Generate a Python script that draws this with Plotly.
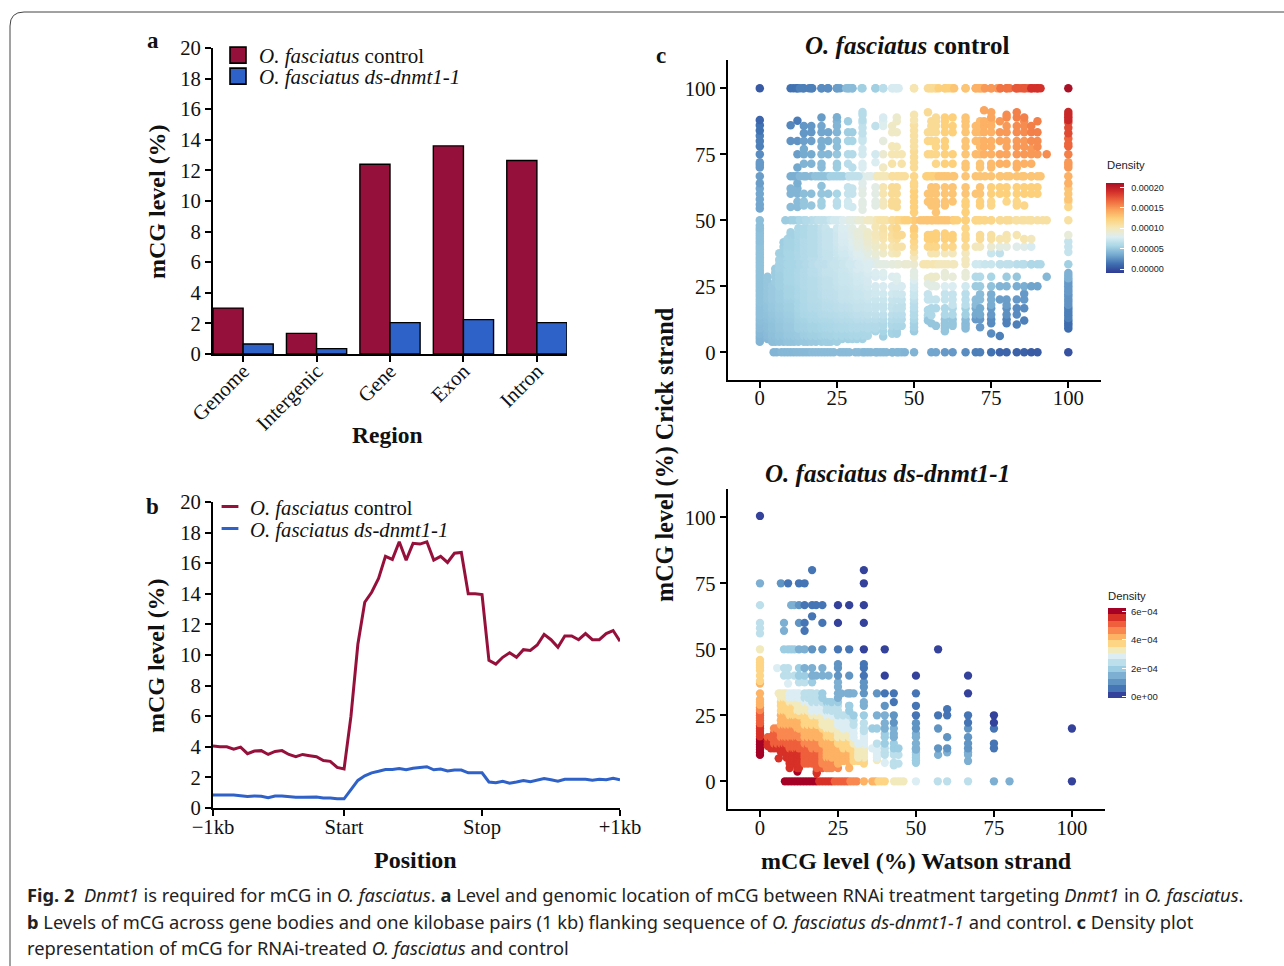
import numpy as np
import plotly.graph_objects as go

W, H = 1284, 966
SERIF = "Liberation Serif"
RED = "#96103c"
BLUE = "#2f62c8"

# ---------- panel a ----------
regions = ["Genome", "Intergenic", "Gene", "Exon", "Intron"]
a_control = [3.0, 1.35, 12.4, 13.6, 12.65]
a_treated = [0.65, 0.35, 2.05, 2.25, 2.05]

# ---------- panel b ----------
pos_ticks = [0, 19, 39, 59]
pos_labels = ["\u22121kb", "Start", "Stop", "+1kb"]
b_control = [4.05, 4.0, 4.0, 3.85, 3.98, 3.55, 3.72, 3.75, 3.5, 3.7, 3.75, 3.5, 3.35, 3.5, 3.42, 3.35, 3.1, 3.05, 2.65, 2.55,
             6.0, 10.7, 13.45, 14.1, 15.0, 16.45, 16.25, 17.4, 16.2, 17.3, 17.25, 17.4, 16.2, 16.45, 16.05, 16.65, 16.7, 14.0, 14.0, 13.95,
             9.65, 9.4, 9.85, 10.15, 9.85, 10.35, 10.3, 10.65, 11.35, 11.0, 10.5, 11.25, 11.25, 11.0, 11.4, 11.0, 11.0, 11.4, 11.6, 10.9]
b_treated = [0.85, 0.85, 0.82, 0.85, 0.8, 0.75, 0.78, 0.77, 0.68, 0.78, 0.78, 0.72, 0.7, 0.7, 0.7, 0.72, 0.65, 0.65, 0.6, 0.6,
             1.2, 1.8, 2.1, 2.3, 2.4, 2.52, 2.52, 2.58, 2.5, 2.6, 2.65, 2.7, 2.5, 2.55, 2.42, 2.48, 2.48, 2.3, 2.3, 2.3,
             1.7, 1.65, 1.75, 1.62, 1.7, 1.8, 1.72, 1.8, 1.92, 1.85, 1.75, 1.88, 1.88, 1.9, 1.88, 1.82, 1.88, 1.85, 1.95, 1.85]

# ---------- panel c: columns of Watson value -> Crick values ----------
c_col_x = [0, 10, 12.2, 14.3, 16.7, 20, 22.2, 25, 28.6, 30, 33.3, 37.5, 40, 42.9, 44.4, 46, 50, 54.5, 55.6, 57.1, 60, 62.5, 66.7,
           70, 71.4, 72.7, 75, 77.8, 80, 83.3, 85.7, 88, 90, 93, 100]
c_col_y = [
    [4, 5, 6, 7, 8, 9, 10, 11, 12, 13, 14, 15, 16, 17, 18, 19, 20, 21, 22, 23, 24, 25, 26, 27, 28, 29, 30, 31, 32, 33, 34, 35, 36, 37, 38, 39, 40, 41, 42, 43, 44, 45, 46, 47, 48, 50, 54.5, 56, 58, 60, 62, 64, 66.7, 70, 71, 72, 75, 78, 80, 82, 84, 86, 88, 100],
    [50, 55, 60, 62, 66.7, 80, 86, 100],
    [50, 55, 57, 60, 62, 64, 66.7, 70, 75, 80, 87.7, 100],
    [50, 55.6, 57.1, 60, 66.7, 71.4, 75, 77, 80, 83, 85.7, 100],
    [50, 55.6, 60, 66.7, 71.4, 75, 80, 83.3, 85.7, 100],
    [50, 55.6, 57, 60, 63, 66.7, 70, 71.4, 75, 77.8, 80, 83.3, 85.7, 88.9, 100],
    [50, 60, 66.7, 75, 80, 83.3, 100],
    [50, 55.6, 57, 60, 66.7, 70, 71.4, 75, 77.8, 80, 83.3, 85.7, 87.5, 89, 100],
    [50, 55.6, 57.1, 60, 62.5, 66.7, 71.4, 75, 80, 83.3, 87.5, 100],
    [50, 55, 60, 62, 66.7, 70, 75, 80, 83.3, 100],
    [0, 5, 6.5, 8, 9.5, 11, 12.5, 14, 15.5, 17, 18.5, 20, 21.5, 23, 24.5, 26, 27.5, 29, 30.5, 32, 33.3, 35, 36.5, 38, 39.5, 41, 42.5, 44, 45.5, 47, 50, 54, 56, 57, 60, 62, 64, 66.7, 70, 71.4, 75, 77, 80, 81, 83, 85, 87, 88, 90, 91, 100],
    [0, 8, 9, 10, 11, 12.5, 14.3, 16.7, 18, 20, 22.2, 23, 25, 28.6, 30, 33.3, 35.7, 37.5, 40, 41, 42.9, 44.4, 45, 47.5, 50, 55.6, 57.1, 60, 62.5, 66.7, 72, 75, 85.7, 100],
    [0, 6, 8, 10, 11, 12.5, 14.3, 16.7, 18, 20, 22.2, 25, 28.6, 30, 33.3, 37.5, 40, 42.9, 44.4, 45.5, 47, 50, 55.6, 57.1, 60, 62.5, 66.7, 70, 75, 80, 85.7, 87.5, 88.9, 100],
    [0, 7, 8, 10, 11, 12.5, 14.3, 16.7, 18, 20, 22.2, 25, 28.6, 33.3, 37.5, 40, 42.9, 44.4, 47, 50, 55.6, 57.1, 60, 62.5, 66.7, 71.4, 75, 78, 83.3, 85.7, 100],
    [0, 7, 8, 10, 12.5, 14.3, 16.7, 20, 22.2, 25, 27, 28.6, 33.3, 37.5, 40, 42.9, 44.4, 47, 50, 55, 57, 60, 62.5, 66.7, 75, 77.8, 83.3, 87.5, 88.9, 100],
    [0, 10, 12.5, 14.3, 16.7, 18, 20, 22, 25, 40, 44.4, 50, 66.7, 71.4, 75],
    [0, 8, 9.5, 11, 12.5, 14, 15.5, 17, 18.5, 20, 21.5, 23, 24.5, 26, 27.5, 29, 30.5, 33.3, 36, 38, 40, 42, 44, 46, 47, 50, 53, 55, 57, 59, 61, 63, 64, 66.7, 70, 72, 74, 76, 78, 80, 82, 84, 86, 88, 90, 100],
    [28, 26, 22, 20, 16, 14, 13, 12, 44.4, 42.9, 40, 33.3, 50, 57, 60, 66.7, 75, 80, 83.3, 90.9, 100],
    [0, 11, 14, 16.7, 20, 25, 27, 28.6, 37.5, 40, 42.9, 44.4, 50, 55.6, 57.1, 60, 62.5, 66.7, 75, 80, 83.3, 85.7, 87.5, 100],
    [0, 10, 16.7, 20, 25, 28.6, 33.3, 37.5, 40, 42.9, 44.4, 45, 50, 53, 55.6, 57.1, 60, 62.5, 66.7, 71.4, 75, 77.8, 80, 83.3, 85.7, 87.5, 88.9, 100],
    [0, 8, 9, 10, 11, 12.5, 14.3, 16.7, 20, 22.2, 25, 28.6, 30, 33.3, 37.5, 40, 42.9, 44.4, 45, 50, 55.6, 57.1, 60, 62.5, 66.7, 71.4, 75, 77.8, 80, 83.3, 85.7, 87.5, 88.9, 100],
    [0, 10, 11.1, 12.5, 14.3, 16.7, 18, 20, 22, 25, 28.6, 33.3, 37.5, 40, 42.9, 44.4, 50, 57.1, 60, 62.5, 66.7, 71.4, 75, 83.3, 85.7, 88.9, 100],
    [0, 9, 10, 11, 12.5, 14.3, 16.7, 18, 20, 22.2, 25, 28.6, 30, 33.3, 35, 37.5, 40, 42.9, 44.4, 47, 50, 53, 55.6, 57.1, 60, 62.5, 66.7, 70, 71.4, 75, 77.8, 80, 83.3, 85.7, 87.5, 88.9, 100],
    [0, 12.5, 14.3, 16.7, 18, 20, 25, 28.6, 33.3, 40, 50, 60, 66.7, 75, 80, 83.3, 85.7, 100],
    [0, 9.5, 12.5, 14.3, 16.7, 20, 22, 25, 28.6, 33.3, 40, 42.9, 44.4, 50, 55.6, 57.1, 60, 62.5, 66.7, 70, 71.4, 75, 77.8, 80, 83.3, 85.7, 87.5, 100],
    [50, 75, 77.8, 80, 83.3, 85.7, 87.5, 91.7, 100],
    [0, 7.1, 11, 12.5, 14.3, 16.7, 18, 20, 22, 25, 28.6, 33.3, 37.5, 40, 42.9, 44.4, 50, 55.6, 57.1, 60, 62.5, 66.7, 70, 71.4, 75, 77.8, 80, 83.3, 85.7, 87.5, 88.9, 90.9, 100],
    [0, 6.2, 20, 25, 33.3, 37.5, 40, 42.9, 50, 60, 62.5, 66.7, 71.4, 75, 80, 83.3, 87.5, 100],
    [0, 11, 12.5, 14.3, 16.7, 18, 20, 25, 28.6, 33.3, 40, 42.9, 44.4, 50, 57.1, 60, 62.5, 66.7, 71.4, 75, 77.8, 80, 83.3, 85.7, 88.9, 90, 100],
    [0, 10.5, 14.3, 16.7, 20, 25, 28.6, 33.3, 40, 44.4, 50, 55.6, 57.1, 60, 62.5, 66.7, 70, 71.4, 75, 77.8, 80, 83.3, 85.7, 88.9, 90.9, 100],
    [0, 12, 16.7, 20, 22.2, 25, 33.3, 40, 42.9, 50, 55.6, 60, 62.5, 66.7, 71.4, 75, 77.8, 80, 83.3, 85.7, 87.5, 88.9, 100],
    [0, 25, 33.3, 40, 42.9, 50, 60, 62.5, 66.7, 71.4, 75, 77, 80, 83.3, 85.7, 100],
    [0, 25, 33.3, 50, 60, 62.5, 66.7, 75, 77.8, 80, 83.3, 87.5, 100],
    [28.6, 50, 75],
    [0, 9, 10, 11, 12, 13, 14, 15, 16, 17, 18, 19, 20, 21, 22, 23, 24, 25, 26, 27, 28, 29, 30, 33.3, 38, 40, 42, 44.4, 50, 55, 57, 58, 60, 62, 64, 66.7, 70, 71, 72, 75, 78, 79, 81, 83, 85, 87, 88, 89, 90, 91, 100],
]
# the solid low-methylation blob: each column is filled between a low and a high edge
c_blob_x = [2.5, 4, 5, 6.3, 7.7, 9, 10, 11.1, 12.5, 14.3, 15.4, 16.7, 18.2, 20, 21.4, 22.2, 23, 25, 26.7, 28.6, 30, 31.5, 35]
c_blob_low = [5, 4, 4, 4, 4, 4, 4, 4, 4, 4, 4, 4, 4, 4, 4, 4, 4, 4, 5, 5, 5, 5, 6]
c_blob_high = [29, 25, 33, 37.5, 42, 44, 46, 45, 47, 47, 47, 49, 47, 47, 47, 46, 46, 47, 47, 47, 47, 46, 46]
c_blob_levels = [4, 5, 6.3, 7.7, 9, 10, 11.1, 12.5, 14.3, 15.4, 16.7, 18.2, 20, 21.4, 23, 25, 26.7, 28.6, 30, 31.6, 33.3, 35, 37.5, 38.5, 40, 41.7, 42.9, 44.4, 45.5, 47]
c_bottom_x = [4.5, 5.5, 7, 8, 9, 10, 11, 12, 13, 14, 15, 16, 17, 18, 19, 20, 21, 22, 23, 24, 26, 27, 28, 29, 31, 32, 34, 35, 36, 38, 39, 41, 43, 45, 47]
c_row50_x = [8.3, 11, 13, 15, 18, 19, 21, 23, 24, 26, 27, 29, 31, 32, 35, 36, 38, 39, 41, 43, 45, 47, 48, 52, 53, 54, 56, 58, 59, 61, 63, 64, 66.7, 70, 71, 73, 75, 78, 80, 81, 83, 85, 87, 88, 91.7]
c_row33_x = [8, 9, 11, 13, 15, 17, 19, 21, 23, 24, 26, 27, 29, 31, 32, 35, 36, 38, 39, 41, 43, 45, 47, 48, 53, 54, 56, 58, 59, 61, 63, 73, 78, 81, 85, 88, 91]
c_row67_x = [11, 12, 13, 15, 18, 19, 21, 23, 24, 26, 27, 29, 31, 32, 35, 36, 38, 39, 41, 43, 45, 47, 54, 56, 58, 59, 61, 63, 73, 78, 81, 85, 88, 91]
c_top_x = [11, 12, 13, 14, 16, 17, 20, 22, 25, 26, 28, 29, 30, 33, 37.5, 40, 43, 44, 45, 50, 55, 56, 57, 58, 60, 61, 62, 63, 66.7, 70, 71, 72, 73, 75, 77, 78, 80, 81, 83, 84, 85, 86, 87, 88, 89, 90, 91]

c_density = [
    [4, 4.5, 4.5, 4.5, 4.5, 4.5, 4.5, 4.5, 4.5, 4, 4, 3.5, 3, 2.5, 2, 1.5, 1, 0.8, 0.6, 0.3, 0.2],
    [4, 4.5, 5, 5.5, 5.5, 5.5, 5.5, 5.5, 5, 5, 4.5, 4, 4, 3.5, 3, 2.5, 2, 1.5, 1, 0.8, 0.5],
    [4.5, 5, 6, 6.5, 6.5, 6.5, 6.5, 6.5, 6.5, 6, 5.5, 5, 5, 4.5, 3, 2.5, 2.1, 2, 1.7, 1.5, 1.3],
    [5, 5.5, 6.5, 7, 7.5, 7.5, 7.5, 7.5, 7, 7, 6.5, 6, 6, 5.5, 3.7, 3, 2.7, 2.5, 2.3, 2.1, 2],
    [5, 5.5, 7, 7.5, 8, 8, 8.5, 8, 8, 8, 7.5, 7, 7, 6.5, 4.5, 3.8, 3.2, 3, 2.9, 2.8, 2.8],
    [5, 6, 7, 7.5, 8, 8.5, 8.5, 9, 9, 9, 8.5, 8.5, 8, 7.5, 5.3, 4.8, 4.2, 3.8, 3.4, 3.2, 3],
    [5, 6, 7, 7.5, 8, 8.5, 9, 9.5, 9.5, 10, 10, 9.5, 9, 9, 6.2, 5.8, 5.3, 5, 4.6, 4.3, 4],
    [5, 6, 6.5, 7, 8, 8.5, 9, 9.5, 10, 10.5, 10.5, 10.5, 10, 10, 7.5, 7.2, 6.8, 6.5, 6, 5.7, 5.5],
    [5, 5.5, 6, 7, 7.5, 8.5, 9, 10, 10.5, 11, 11.5, 12, 12, 11.5, 10, 9.2, 8.7, 8.3, 7.8, 7.3, 7],
    [5, 5.5, 6, 7, 8, 8.5, 9, 10, 11, 11.5, 12, 12.5, 12.5, 12, 11.5, 11, 10.5, 10.5, 10, 9.5, 9],
    [4.5, 5, 6, 7, 7.5, 8.5, 9.5, 10.5, 11.5, 12, 13, 13, 13, 12.5, 12, 12, 11.5, 11, 11, 11, 11],
    [3.5, 4, 4.5, 5, 5.5, 6.5, 7.5, 8.5, 10, 11.5, 12.5, 13, 13, 12.5, 12.5, 12, 12, 12, 12, 12, 12],
    [3.5, 3.8, 4.2, 4.6, 5, 5.8, 7, 8.5, 10.5, 11.5, 12.5, 13, 13, 13, 13, 12.5, 12.5, 12.5, 12.5, 12.5, 13],
    [3.2, 3.5, 3.9, 4.4, 4.8, 5.6, 6.8, 8.3, 10.2, 11.2, 12, 12.5, 13, 13, 13, 13, 13, 13, 13, 13.5, 14],
    [3, 3.2, 3.6, 4.1, 4.5, 5.3, 6.5, 8, 9.8, 10.8, 11.5, 12, 12.5, 13, 13, 13.5, 14, 14, 14, 14, 15],
    [2.5, 2.8, 3.2, 3.7, 4.3, 5, 6.2, 7.6, 9.3, 10.4, 11.5, 12, 12.5, 13, 13.5, 14, 14.5, 15, 15, 15.5, 16],
    [2, 2.3, 2.8, 3.3, 3.9, 4.6, 5.8, 7.2, 8.8, 10.2, 11, 12, 12.5, 13, 13.5, 14, 14.5, 15, 15.5, 16, 17],
    [1.5, 1.8, 2.3, 2.9, 3.5, 4.2, 5.4, 6.8, 8.2, 9.7, 11, 11.5, 12.5, 13, 13.5, 14, 15, 15.5, 16, 16.5, 18],
    [1, 1.3, 1.9, 2.5, 3.1, 3.9, 5, 6.4, 7.8, 9.4, 10.5, 11.5, 12.5, 13, 13.5, 14.5, 15.5, 16, 17, 18, 19.5],
    [0.8, 1.2, 1.6, 2.2, 2.8, 3.5, 4.8, 6, 7, 8.5, 10.5, 11.5, 12.5, 13, 14, 15, 16.5, 17.5, 18.5, 20, 20.5],
    [0.5, 1, 1.5, 2, 2.5, 3.2, 4.5, 5.5, 6.5, 7.8, 10.5, 11.5, 12.5, 13, 14, 15, 16.5, 17.5, 19, 20, 21],
]
# finer reading of the lower-left quarter: rows y = 0, 2.5 .. 50, columns x = 0, 2.5 .. 50
c_fine_bins = [0, 2.5, 5, 7.5, 10, 12.5, 15, 17.5, 20, 22.5, 25, 27.5, 30, 32.5, 35, 37.5, 40, 42.5, 45, 47.5, 50]
c_fine = [
    [4.0, 4.1, 4.2, 4.3, 4.3, 4.4, 4.4, 4.5, 4.5, 4.5, 4.5, 4.5, 4.5, 4.5, 4.4, 4.4, 4.4, 4.3, 4.3, 4.2, 4.1],
    [4.1, 4.2, 4.4, 4.5, 4.6, 4.7, 4.8, 4.9, 4.9, 5, 5, 5, 5, 5, 5, 4.9, 4.9, 4.8, 4.8, 4.7, 4.6],
    [4.2, 4.4, 4.6, 4.7, 4.9, 5, 5.1, 5.2, 5.3, 5.4, 5.5, 5.5, 5.6, 5.6, 5.5, 5.5, 5.5, 5.4, 5.3, 5.2, 5.0],
    [4.3, 4.5, 4.7, 4.9, 5.1, 5.2, 5.4, 5.5, 5.6, 5.7, 5.8, 5.8, 5.9, 5.9, 5.9, 5.8, 5.8, 5.7, 5.6, 5.5, 5.3],
    [4.5, 4.6, 4.8, 5, 5.2, 5.5, 5.6, 5.7, 5.8, 5.9, 6, 6.1, 6.2, 6.2, 6.2, 6.2, 6.1, 6, 5.9, 5.8, 5.6],
    [4.6, 4.7, 4.9, 5.1, 5.3, 5.6, 5.7, 5.9, 6, 6.1, 6.2, 6.3, 6.4, 6.5, 6.5, 6.5, 6.4, 6.3, 6.2, 6.1, 5.9],
    [4.7, 4.8, 5, 5.2, 5.4, 5.7, 5.9, 6, 6.2, 6.3, 6.4, 6.5, 6.6, 6.7, 6.8, 6.8, 6.7, 6.6, 6.5, 6.4, 6.2],
    [4.7, 4.9, 5.1, 5.3, 5.5, 5.8, 6, 6.2, 6.3, 6.5, 6.6, 6.7, 6.8, 6.9, 7, 7, 7, 6.9, 6.8, 6.7, 6.5],
    [4.8, 5, 5.2, 5.4, 5.6, 5.8, 6.1, 6.3, 6.4, 6.6, 6.7, 6.9, 7, 7.1, 7.2, 7.2, 7.2, 7.1, 7, 6.9, 6.8],
    [4.8, 5, 5.2, 5.4, 5.7, 5.9, 6.1, 6.3, 6.5, 6.7, 6.8, 7, 7.1, 7.2, 7.4, 7.5, 7.5, 7.5, 7.4, 7.3, 7.2],
    [4.8, 5, 5.2, 5.5, 5.7, 5.9, 6.2, 6.4, 6.6, 6.8, 6.9, 7.1, 7.2, 7.4, 7.6, 7.7, 7.8, 7.8, 7.8, 7.7, 7.6],
    [4.8, 5, 5.3, 5.5, 5.8, 6, 6.2, 6.4, 6.6, 6.8, 7, 7.2, 7.3, 7.5, 7.7, 7.9, 8, 8.1, 8.2, 8.2, 8.1],
    [4.8, 5, 5.3, 5.5, 5.8, 6, 6.2, 6.5, 6.7, 6.9, 7, 7.2, 7.4, 7.6, 7.8, 8, 8.2, 8.4, 8.5, 8.6, 8.6],
    [4.8, 5, 5.3, 5.6, 5.8, 6, 6.2, 6.5, 6.7, 6.9, 7.1, 7.3, 7.5, 7.8, 8, 8.3, 8.6, 8.8, 9, 9.2, 9.3],
    [4.8, 5, 5.3, 5.6, 5.8, 6, 6.2, 6.5, 6.7, 6.9, 7.1, 7.4, 7.7, 8, 8.3, 8.7, 9, 9.3, 9.6, 9.8, 10],
    [4.8, 5, 5.3, 5.5, 5.8, 6, 6.2, 6.4, 6.7, 6.9, 7.2, 7.5, 7.8, 8.2, 8.6, 9.1, 9.5, 9.9, 10.3, 10.6, 10.9],
    [4.8, 5, 5.2, 5.5, 5.7, 5.9, 6.2, 6.4, 6.7, 7, 7.3, 7.7, 8, 8.5, 9, 9.5, 10.1, 10.5, 10.9, 11.3, 11.6],
    [4.7, 5, 5.2, 5.4, 5.7, 5.9, 6.2, 6.4, 6.7, 7, 7.4, 7.8, 8.2, 8.7, 9.3, 9.9, 10.5, 10.9, 11.3, 11.7, 12],
    [4.7, 4.9, 5.1, 5.4, 5.6, 5.9, 6.1, 6.4, 6.7, 7, 7.4, 7.9, 8.3, 8.9, 9.5, 10.1, 10.7, 11.2, 11.6, 12, 12.4],
    [4.6, 4.9, 5.1, 5.3, 5.6, 5.9, 6.1, 6.4, 6.8, 7.1, 7.5, 8, 8.5, 9.1, 9.7, 10.3, 10.9, 11.4, 11.9, 12.3, 12.7],
    [4.6, 4.8, 5.0, 5.3, 5.5, 5.9, 6.2, 6.5, 6.8, 7.2, 7.6, 8.1, 8.5, 9.1, 9.8, 10.3, 10.8, 11.5, 12, 12.5, 12.8],
]

# ---------- panel d ----------
d_col_x = [0, 5.5, 6, 6.7, 7.7, 9, 10, 11, 12.5, 14.3, 16.7, 18, 20, 22, 25, 28.6, 33.3, 36, 37.5, 40, 42.9, 44.4, 50, 57.1, 60, 66.7, 75, 100]
d_col_y = [
    [10, 11, 12, 13, 14, 15, 16, 17, 18, 19, 20, 21, 22, 23, 24, 25, 26, 27, 28, 29, 30, 31, 33.3, 37, 38, 40, 42, 43, 44, 45, 46, 50, 56, 58, 60, 66.7, 75, 100.5],
    [42.9],
    [8.7, 33.3],
    [75],
    [40, 42.9, 50, 57, 60],
    [25, 37, 40, 42.9, 50, 75],
    [50, 66.7],
    [40, 50, 66.7],
    [37.5, 40, 42.9, 50, 60, 66.7, 75],
    [37.5, 40, 42.9, 50, 57, 60, 66.7, 75],
    [37.5, 40, 42.9, 50, 62.5, 66.7, 80],
    [40, 66.7],
    [40, 42.9, 50, 60, 66.7],
    [40],
    [35.7, 37.5, 40, 42.9, 44.4, 50, 60, 66.7],
    [5, 7, 9, 11, 12.5, 14.3, 16.7, 18, 20, 22.2, 25, 28.6, 33.3, 40, 50, 66.7],
    [6.7, 7.7, 9, 10, 11, 12, 13, 14, 15, 16, 17, 18, 19, 20, 22, 25, 28.6, 30, 33.3, 35.7, 37.5, 40, 42.9, 44.4, 50, 60, 66.7, 75, 80],
    [12.5, 20],
    [8, 9, 10, 11, 12.5, 14.3, 20, 25, 33.3],
    [7, 10, 11, 12.5, 14.3, 16.7, 18, 20, 22, 25, 28.6, 33.3, 40, 50],
    [6, 7, 10, 11, 12.5, 14.3, 16.7, 18, 20, 22.2, 25, 30, 33.3],
    [6.7, 10, 12.5],
    [7, 8, 9, 10, 11, 12, 12.5, 14.3, 16.7, 18, 20, 22, 25, 28.6, 33.3, 40],
    [10, 12.5, 20, 25, 50],
    [11, 12.5, 16.7, 25, 27.3],
    [7.7, 10, 11, 12.5, 14.3, 16.7, 20, 22.2, 25, 33.3, 40],
    [12.5, 14.3, 20, 22.2, 25],
    [0, 20],
]
d_blob_x = [2.5, 3.5, 4.5, 5.5, 6.7, 7.7, 8.5, 9.5, 10.5, 11.1, 12, 12.5, 14.3, 15.4, 16.7, 18.2, 20, 21.4, 22.2, 23, 25, 26.7, 28.6, 30, 31.5]
d_blob_low = [13, 12.5, 12.5, 12.5, 11, 12.5, 9, 5, 6.7, 7, 3.7, 5, 6.7, 6.7, 6.7, 3, 5, 5, 5, 5, 5, 7, 7, 7, 7]
d_blob_high = [16.7, 16.7, 20, 20, 33.3, 33.3, 33.3, 33.3, 33.3, 33.3, 33.3, 33.3, 33.3, 33.3, 33.3, 33.3, 33.3, 31, 30, 30, 33.3, 25, 28.6, 25, 15]
d_blob_levels = [3, 3.7, 5, 6.7, 7.7, 9, 10, 11.1, 12.5, 13.3, 14.3, 15.4, 16.7, 18.2, 20, 21.4, 23.1, 25, 26.7, 28.6, 30, 31.6, 33.3]
d_bottom_x = [8, 9, 10, 11, 12, 13, 14, 15, 16, 17, 18, 19, 20, 21, 22, 23, 24, 25, 26, 27, 28, 29, 30, 31, 33.3, 36, 37, 38, 39, 40, 43, 44, 45, 46, 50, 57, 60, 66.7, 75, 80]
d_row33_x = [16, 26, 28, 29, 30]

d_bins = [0, 2.5, 5, 7.5, 10, 12.5, 15, 17.5, 20, 22.5, 25, 27.5, 30, 32.5, 35, 40, 45, 50, 60, 75, 100]
d_density = [
    [40, 50, 60, 63, 62, 61, 60, 59, 57, 54, 52, 49, 47, 44, 42, 37, 34, 30, 23, 13, 1],
    [60, 60, 60, 60, 60, 58, 57, 56, 54, 51, 48, 46, 44, 41, 38, 34, 30, 27, 20, 10, 1],
    [60, 59, 58, 57, 57, 56, 55, 53, 51, 48, 45, 43, 41, 38, 34, 30, 26, 22, 15, 7, 1],
    [61, 59, 57, 56, 56, 55, 53, 51, 48, 45, 43, 41, 39, 36, 32, 27, 24, 20, 14, 7, 1],
    [61, 58, 56, 55, 55, 54, 52, 50, 47, 44, 42, 40, 38, 35, 30, 25, 22, 19, 13, 6, 1],
    [60, 57, 55, 54, 53, 52, 50, 48, 46, 43, 41, 39, 36, 33, 27, 23, 20, 17, 12, 6, 1],
    [58, 55, 53, 52, 51, 49, 47, 45, 43, 40, 38, 36, 33, 30, 25, 21, 18, 15, 11, 5, 1],
    [56, 52, 50, 48, 48, 46, 44, 42, 40, 37, 35, 33, 30, 28, 23, 19, 16, 13, 10, 5, 1],
    [54, 49, 46, 45, 45, 43, 42, 40, 37, 34, 32, 30, 28, 25, 20, 17, 14, 12, 9, 4, 1],
    [52, 46, 43, 42, 42, 41, 39, 37, 34, 31, 29, 27, 24, 22, 18, 15, 12, 10, 7, 3, 1],
    [50, 43, 41, 40, 39, 38, 36, 34, 31, 28, 26, 24, 21, 19, 16, 13, 10, 8, 6, 3, 0],
    [47, 41, 39, 38, 37, 35, 33, 30, 27, 24, 22, 20, 18, 16, 13, 11, 9, 7, 5, 2, 0],
    [44, 38, 37, 36, 34, 31, 29, 26, 23, 21, 18, 16, 15, 13, 11, 9, 7, 6, 4, 2, 0],
    [42, 36, 34, 33, 30, 27, 25, 23, 21, 19, 17, 15, 13, 11, 10, 7, 6, 4, 2, 1, 0],
    [40, 34, 33, 31, 28, 25, 22, 20, 18, 17, 15, 13, 11, 9, 8, 6, 4, 3, 2, 1, 0],
    [38, 31, 28, 26, 24, 21, 18, 17, 15, 13, 12, 10, 8, 6, 5, 3, 2, 1, 1, 0, 0],
    [36, 32, 30, 26, 22, 19, 17, 15, 13, 12, 10, 8, 6, 5, 4, 2, 1, 1, 0, 0, 0],
    [31, 26, 23, 21, 18, 16, 14, 12, 10, 8, 7, 5, 4, 3, 2, 1, 1, 1, 0, 0, 0],
    [23, 21, 19, 16, 13, 10, 8, 6, 5, 4, 3, 3, 2, 1, 1, 0, 0, 0, 0, 0, 0],
    [16, 13, 11, 9, 7, 6, 5, 4, 3, 2, 2, 1, 1, 1, 1, 0, 0, 0, 0, 0, 0],
    [2, 2, 1, 1, 1, 1, 1, 0, 0, 0, 0, 0, 0, 0, 0, 0, 0, 0, 0, 0, 0],
]

c_colors = ["#2f3a93", "#3f6fb0", "#74a9cf", "#a9d6e6", "#dcedf2", "#f5e8b8", "#fdd27e", "#fba45c", "#ef6a3e", "#d4302a", "#a50f26"]
d_colors = ["#35429b", "#4575b4", "#5f94c3", "#7cafd2", "#9ccde2", "#bcdfeb", "#dceef3", "#f2e9bd",
            "#fdd585", "#fdb264", "#f98850", "#ef5f3c", "#d73027", "#a50026"]

c_ticks = [0, 5e-5, 1e-4, 1.5e-4, 2e-4]
c_ticktext = ["\u00a0\u00a00.00000", "\u00a0\u00a00.00005", "\u00a0\u00a00.00010", "\u00a0\u00a00.00015", "\u00a0\u00a00.00020"]
d_ticks = [0, 2e-4, 4e-4, 6e-4]
d_ticktext = ["\u00a00e+00", "\u00a02e\u221204", "\u00a04e\u221204", "\u00a06e\u221204"]

caption_lines = [
    "<b>Fig. 2</b>  <i>Dnmt1</i> is required for mCG in <i>O. fasciatus</i>. <b>a</b> Level and genomic location of mCG between RNAi treatment targeting <i>Dnmt1</i> in <i>O. fasciatus</i>.",
    "<b>b</b> Levels of mCG across gene bodies and one kilobase pairs (1 kb) flanking sequence of <i>O. fasciatus ds-dnmt1-1</i> and control. <b>c</b> Density plot",
    "representation of mCG for RNAi-treated <i>O. fasciatus</i> and control",
]


def px(x):
    return x / W


def py(y):
    return 1 - y / H


def expand(col_x, col_y):
    xs, ys = [], []
    for x, col in zip(col_x, col_y):
        xs += [x] * len(col)
        ys += list(col)
    return xs, ys


def blob(xs_in, low, high, levels):
    xs, ys = [], []
    for x, a, b in zip(xs_in, low, high):
        for y in levels:
            if a <= y <= b:
                xs.append(x)
                ys.append(y)
    return xs, ys


def lookup(xs, ys, bins, table, unit, fine_bins=None, fine_table=None):
    tab = np.array(table, dtype=float)
    b = np.array(bins, dtype=float)
    out = []
    for x, y in zip(xs, ys):
        if fine_table is not None and x <= fine_bins[-1] and y <= fine_bins[-1]:
            fb = np.array(fine_bins, dtype=float)
            out.append(fine_table[np.abs(fb - y).argmin()][np.abs(fb - x).argmin()] * unit)
        else:
            out.append(tab[np.abs(b - y).argmin(), np.abs(b - x).argmin()] * unit)
    return out


def stepped(colors):
    n = len(colors)
    out = []
    for i, c in enumerate(colors):
        out += [[i / n, c], [(i + 1) / n, c]]
    return out


def smooth(colors):
    n = len(colors) - 1
    return [[i / n, c] for i, c in enumerate(colors)]


fig = go.Figure()

NAME_CONTROL = "<i>O. fasciatus</i> control"
NAME_TREATED = "<i>O. fasciatus ds-dnmt1-1</i>"

fig.add_bar(x=regions, y=a_control, marker=dict(color=RED, line=dict(color="black", width=1.4)),
            name=NAME_CONTROL, xaxis="x", yaxis="y", showlegend=False)
fig.add_bar(x=regions, y=a_treated, marker=dict(color=BLUE, line=dict(color="black", width=1.4)),
            name=NAME_TREATED, xaxis="x", yaxis="y", showlegend=False)

b_x = list(range(len(b_control)))
fig.add_scatter(x=b_x, y=b_control, mode="lines", line=dict(color=RED, width=3), name=NAME_CONTROL, xaxis="x2", yaxis="y2", showlegend=False)
fig.add_scatter(x=b_x, y=b_treated, mode="lines", line=dict(color=BLUE, width=3), name=NAME_TREATED, xaxis="x2", yaxis="y2", showlegend=False)

# legend keys only: no data, a key of the reference's size
for name, col, leg in [(NAME_CONTROL, RED, "legend"), (NAME_TREATED, BLUE, "legend2")]:
    fig.add_scatter(x=[None], y=[None], mode="markers", name=name, legend=leg, xaxis="x", yaxis="y", showlegend=True,
                    marker=dict(symbol="square", size=16, color=col, line=dict(color="black", width=1.6)))
for name, col, leg in [(NAME_CONTROL, RED, "legend3"), (NAME_TREATED, BLUE, "legend4")]:
    fig.add_scatter(x=[None], y=[None], mode="markers", name=name, legend=leg, xaxis="x2", yaxis="y2", showlegend=True,
                    marker=dict(symbol="line-ew", size=12, line=dict(color=col, width=3)))

# panel c points
cx, cy = expand(c_col_x, c_col_y)
bx, by = blob(c_blob_x, c_blob_low, c_blob_high, c_blob_levels)
cx += bx + c_bottom_x + c_row50_x + c_row33_x + c_row67_x + c_top_x
cy += by + [0] * len(c_bottom_x) + [50] * len(c_row50_x) + [33.3] * len(c_row33_x) + [66.7] * len(c_row67_x) + [100] * len(c_top_x)
c_bins = list(range(0, 101, 5))
cd = lookup(cx, cy, c_bins, c_density, 1e-5, c_fine_bins, c_fine)
fig.add_scatter(x=cx, y=cy, mode="markers", xaxis="x3", yaxis="y3", showlegend=False,
                marker=dict(size=8.5, color=cd, cmin=-0.8e-5, cmax=21.2e-5, colorscale=smooth(c_colors), line=dict(width=0),
                            colorbar=dict(x=px(1106), xanchor="left", y=py(272.5), yanchor="bottom", len=89.5, lenmode="pixels",
                                          thickness=17.5, thicknessmode="pixels", xpad=0, ypad=0, outlinewidth=0,
                                          tickvals=c_ticks, ticktext=c_ticktext, ticks="inside", ticklen=4, tickcolor="white", tickwidth=1,
                                          tickfont=dict(family="Liberation Sans", size=9, color="#222"))))

# panel d points
dx, dy = expand(d_col_x, d_col_y)
bx, by = blob(d_blob_x, d_blob_low, d_blob_high, d_blob_levels)
dx += bx + d_bottom_x + d_row33_x
dy += by + [0] * len(d_bottom_x) + [33.3] * len(d_row33_x)
dd = lookup(dx, dy, d_bins, d_density, 1e-5)
fig.add_scatter(x=dx, y=dy, mode="markers", xaxis="x4", yaxis="y4", showlegend=False,
                marker=dict(size=8.3, color=dd, cmin=-0.1e-4, cmax=6.25e-4, colorscale=stepped(d_colors), line=dict(width=0),
                            colorbar=dict(x=px(1108), xanchor="left", y=py(698), yanchor="bottom", len=90, lenmode="pixels",
                                          thickness=18, thicknessmode="pixels", xpad=0, ypad=0, outlinewidth=0,
                                          tickvals=d_ticks, ticktext=d_ticktext, ticks="inside", ticklen=4, tickcolor="white", tickwidth=1,
                                          tickfont=dict(family="Liberation Sans", size=9.5, color="#222"))))

axis_common = dict(showgrid=False, zeroline=False, showline=True, linecolor="black", linewidth=1.8,
                   ticks="outside", tickcolor="black", tickwidth=1.5, ticklen=6, automargin=False,
                   tickfont=dict(family=SERIF, size=20.7, color="#111"))

anno = []


def note(text, x, y, size=22, family=SERIF, xanchor="center", angle=0, color="#111"):
    anno.append(dict(text=text, x=px(x), y=py(y), xref="paper", yref="paper", showarrow=False, xanchor=xanchor, yanchor="middle",
                     textangle=angle, font=dict(family=family, size=size, color=color), borderpad=0))


note("<b>a</b>", 153, 41, 23)
note("<b>b</b>", 152, 506, 23)
note("<b>c</b>", 661, 55, 23)
note("<b>mCG level (%)</b>", 157, 202, 24, angle=-90)
note("<b>mCG level (%)</b>", 156, 656, 24, angle=-90)
note("<b>Region</b>", 387, 435, 23.5)
note("<b>Position</b>", 415, 860, 24)
note("<b>mCG level (%) Crick strand</b>", 665, 455, 24.2, angle=-90)
note("<b>mCG level (%) Watson strand</b>", 916, 861, 24)
note("<b><i>O. fasciatus</i> control</b>", 907, 45, 25)
note("<b><i>O. fasciatus ds-dnmt1-1</i></b>", 887, 474, 25)
note("Density", 1106, 165, 11.3, family="Liberation Sans", xanchor="left", color="#222")
note("Density", 1107, 596, 11.3, family="Liberation Sans", xanchor="left", color="#222")
for line, yy in zip(caption_lines, [894, 921, 947]):
    note(line, 25.5, yy, 18.3, family="Noto Sans", xanchor="left", color="#222")


def legend_at(x, y, itemwidth=30, size=21):
    return dict(x=px(x), y=py(y), xanchor="left", yanchor="middle", bgcolor="rgba(0,0,0,0)", borderwidth=0,
                font=dict(family=SERIF, size=size, color="#111"), itemwidth=itemwidth, itemsizing="trace")


fig.update_layout(
    width=W, height=H, margin=dict(l=0, r=0, t=0, b=0, autoexpand=False), paper_bgcolor="white", plot_bgcolor="white", barmode="group",
    bargap=0.18, bargroupgap=0,
    xaxis=dict(axis_common, domain=[px(213), px(567)], anchor="y", range=[-0.41, 4.41], tickangle=-45, type="category", ticklabelstandoff=-11),
    yaxis=dict(axis_common, domain=[py(354), py(48)], anchor="x", range=[0, 20], tickvals=list(range(0, 21, 2))),
    xaxis2=dict(axis_common, domain=[px(213), px(620)], anchor="y2", range=[0, 59], tickvals=pos_ticks, ticktext=pos_labels, ticklabelstandoff=-7),
    yaxis2=dict(axis_common, domain=[py(808), py(502)], anchor="x2", range=[0, 20], tickvals=list(range(0, 21, 2))),
    xaxis3=dict(axis_common, domain=[px(727.7), px(1100.7)], anchor="y3", range=[-10.4, 110.5], tickvals=[0, 25, 50, 75, 100], ticklabelstandoff=-8),
    yaxis3=dict(axis_common, domain=[py(380), py(60)], anchor="x3", range=[-10.5, 110.7], tickvals=[0, 25, 50, 75, 100]),
    xaxis4=dict(axis_common, domain=[px(727.7), px(1105.3)], anchor="y4", range=[-10.35, 110.7], tickvals=[0, 25, 50, 75, 100], ticklabelstandoff=-7),
    yaxis4=dict(axis_common, domain=[py(809), py(489.3)], anchor="x4", range=[-10.5, 110.6], tickvals=[0, 25, 50, 75, 100]),
    legend=legend_at(217, 55.5, 32), legend2=legend_at(217, 76.5, 32),
    legend3=legend_at(210, 506.5, 30, 20.7), legend4=legend_at(210, 528.5, 30, 20.7),
    annotations=anno,
    shapes=[dict(type="path", xref="paper", yref="paper",
                 path=f"M {px(1284)} {py(12)} L {px(24)} {py(12)} Q {px(10)} {py(12)} {px(10)} {py(26)} L {px(10)} {py(966)}",
                 line=dict(color="#444", width=1))],
)

fig.write_html("out.html", config={"displayModeBar": False}, post_script="document.body.style.margin='0';")
